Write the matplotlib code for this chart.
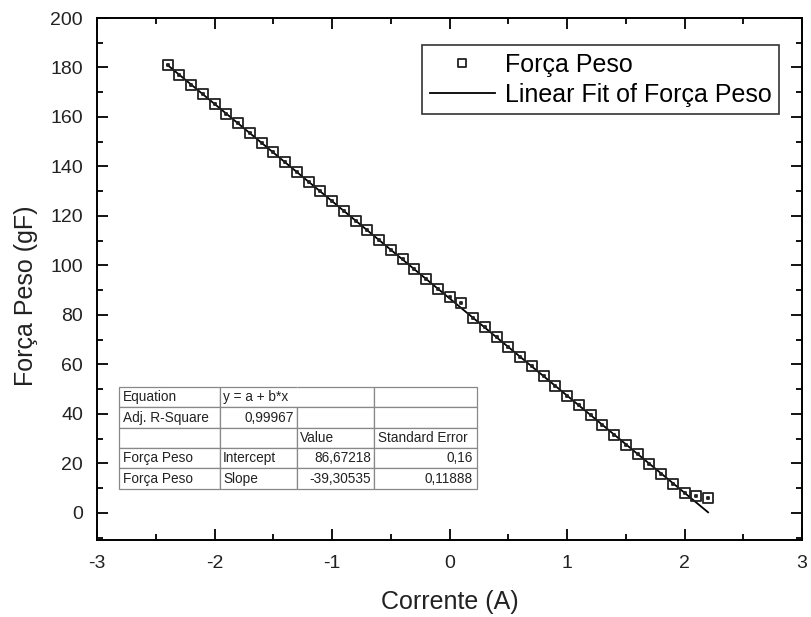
import numpy as np
import matplotlib
matplotlib.use("Agg")
import matplotlib.pyplot as plt
from matplotlib.ticker import MultipleLocator
from matplotlib.path import Path

plt.rcParams["font.family"] = ["Liberation Sans", "DejaVu Sans"]

# measured data (corrente in A, forca peso in gF)
corrente = [-2.4, -2.3, -2.2, -2.1, -2.0, -1.9, -1.8, -1.7, -1.6, -1.5,
            -1.4, -1.3, -1.2, -1.1, -1.0, -0.9, -0.8, -0.7, -0.6, -0.5,
            -0.4, -0.3, -0.2, -0.1, 0.0, 0.1, 0.2, 0.3, 0.4, 0.5,
            0.6, 0.7, 0.8, 0.9, 1.0, 1.1, 1.2, 1.3, 1.4, 1.5,
            1.6, 1.7, 1.8, 1.9, 2.0, 2.1, 2.2]
forca = [181.0, 176.9, 173.0, 169.1, 165.3, 161.4, 157.5, 153.6, 149.5, 145.7,
         141.8, 137.9, 133.9, 130.0, 126.0, 122.1, 118.1, 114.2, 110.3, 106.4,
         102.5, 98.5, 94.6, 90.4, 87.4, 84.6, 78.9, 74.9, 71.0, 67.0,
         63.1, 59.2, 55.2, 51.3, 47.4, 43.4, 39.5, 35.6, 31.6, 27.6,
         23.7, 19.7, 15.6, 11.6, 8.2, 6.6, 5.8]

# linear fit results (Origin)
fit_params = ["Intercept", "Slope"]
fit_values = [86.67218, -39.30535]
fit_errors = [0.16, 0.11888]
adj_r2 = "0,99967"

# Origin style square with a little dot inside
d = 0.1
sq_verts = [(-1, -1), (1, -1), (1, 1), (-1, 1), (-1, -1),
            (-d, -d), (d, -d), (d, d), (-d, d), (-d, -d)]
sq_codes = [Path.MOVETO, Path.LINETO, Path.LINETO, Path.LINETO, Path.CLOSEPOLY] * 2
dot_square = Path(sq_verts, sq_codes)

fig = plt.figure(figsize=(8.11, 6.17), dpi=100)
ax = fig.add_axes([0.1196, 0.1248, 0.8694, 0.846])

xfit = np.array([corrente[0], corrente[-1]])
yfit = fit_values[0] + fit_values[1] * xfit

ax.plot(corrente, forca, linestyle="none", marker=dot_square, markersize=7.5,
        markerfacecolor="none", markeredgecolor="#222222", markeredgewidth=1.3,
        label="Força Peso", zorder=3)
ax.plot(xfit, yfit, color="black", linewidth=1.3,
        label="Linear Fit of Força Peso", zorder=2)

ax.set_xlim(-3, 3)
ax.set_ylim(-11, 200)
ax.xaxis.set_major_locator(MultipleLocator(1))
ax.xaxis.set_minor_locator(MultipleLocator(0.5))
ax.yaxis.set_major_locator(MultipleLocator(20))
ax.yaxis.set_minor_locator(MultipleLocator(10))
ax.set_xticks([-3, -2, -1, 0, 1, 2, 3])
ax.set_xticklabels(["-3", "-2", "-1", "0", "1", "2", "3"])
ax.set_yticks([0, 20, 40, 60, 80, 100, 120, 140, 160, 180, 200])

ax.tick_params(which="both", direction="in", top=True, right=True,
               width=1.3, labelsize=14, labelcolor="#222222")
ax.tick_params(which="major", length=8)
ax.tick_params(which="minor", length=4.5)
ax.tick_params(axis="x", pad=11)
ax.tick_params(axis="y", pad=10)
for s in ax.spines.values():
    s.set_linewidth(1.4)

ax.set_xlabel("Corrente (A)", fontsize=18, color="#222222")
ax.set_ylabel("Força Peso (gF)", fontsize=18, color="#222222")
ax.xaxis.set_label_coords(0.5, -0.095)
ax.yaxis.set_label_coords(-0.083, 0.467)

leg = ax.legend(loc="upper right", bbox_to_anchor=(0.967, 0.948),
                borderaxespad=0, fontsize=18, fancybox=False, framealpha=1,
                edgecolor="#333333", handlelength=2.6, handletextpad=0.4,
                labelspacing=0.25, borderpad=0.3, markerscale=0.8)
leg.get_frame().set_linewidth(1.2)

cells = [
    ["Equation", "y = a + b*x", "", ""],
    ["Adj. R-Square", adj_r2, "", ""],
    ["", "", "Value", "Standard Error"],
    ["Força Peso", fit_params[0], f"{fit_values[0]:.5f}".replace(".", ","),
     f"{fit_errors[0]:.2f}".replace(".", ",")],
    ["Força Peso", fit_params[1], f"{fit_values[1]:.5f}".replace(".", ","),
     f"{fit_errors[1]:.5f}".replace(".", ",")],
]
tbl = ax.table(cellText=cells, bbox=[0.031, 0.098, 0.508, 0.195],
               colWidths=[101, 77, 77, 103], zorder=4)
tbl.auto_set_font_size(False)
tbl.set_fontsize(9.8)
for (r, c), cell in tbl.get_celld().items():
    cell.set_edgecolor("#888888")
    cell.set_linewidth(0.9)
    cell.get_text().set_color("#222222")
    cell.PAD = 0.04
    if (r == 1 and c == 1) or (r >= 3 and c >= 2):
        cell.set_text_props(ha="right")
    else:
        cell.set_text_props(ha="left")
tbl[0, 1].visible_edges = "BTL"
tbl[0, 2].visible_edges = "BTR"

fig.savefig("out.png", dpi=100)
